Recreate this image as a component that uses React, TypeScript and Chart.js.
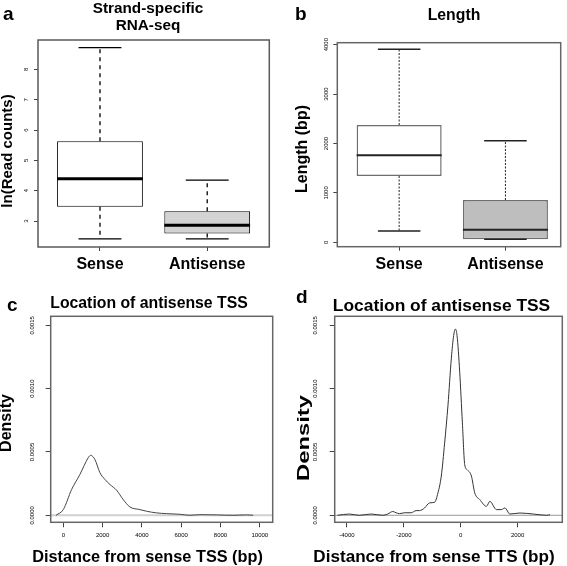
import React, { useEffect, useRef } from 'react';
import { Chart, registerables } from 'chart.js';

Chart.register(...registerables);

const FONT = '"Liberation Sans", Arial, Helvetica, sans-serif';

// ---------- Panel a / b : box plots ----------
const boxCategories = ['Sense', 'Antisense'];
const boxPositions = [1, 2];

const readMin = [2.41, 2.41];
const readQ1 = [3.47, 2.59];
const readMedian = [4.39, 2.86];
const readQ3 = [5.63, 3.32];
const readMax = [8.72, 4.35];
const readTicks = [3, 4, 5, 6, 7, 8];

const lenMin = [229, 61];
const lenQ1 = [1342, 61];
const lenMedian = [1761, 255];
const lenQ3 = [2374, 856];
const lenMax = [3907, 2057];
const lenTicks = [0, 1000, 2000, 3000, 4000];

// ---------- Panel c / d : densities ----------
const densityTicks = [0, 0.0005, 0.001, 0.0015];
const densityTickLabels = ['0.0000', '0.0005', '0.0010', '0.0015'];

const tssX = [-372, 0, 424, 847, 1271, 1390, 1610, 1864, 2119, 2373, 2712, 3051, 3390, 3898, 4237, 4746, 5254, 5932, 6440, 6949, 7796, 8644, 9322, 9661];
const tssY = [0, 0.000045, 0.000204, 0.000323, 0.000455, 0.000474, 0.00044, 0.000336, 0.000283, 0.000243, 0.000198, 0.000124, 0.000066, 0.000045, 0.000032, 0.000019, 0.000013, 0.000008, 0.0, 0.000005, 0.000003, 0.0, 0.000003, 0];
const tssTicks = [0, 2000, 4000, 6000, 8000, 10000];

const ttsX = [-4329, -3917, -3564, -3153, -2741, -2565, -2388, -2271, -2153, -1976, -1741, -1565, -1447, -1270, -1094, -918, -800, -682, -565, -447, -329, -247, -188, -129, -35, 59, 141, 224, 376, 494, 670, 906, 1023, 1258, 1435, 1553, 1729, 2082, 2553, 3023, 3140];
const ttsY = [0, 0.00001, 0, 0.00001, 0, 0.00001, 0.00003, 0.00002, 0.000013, 0.00002, 0.00002, 0.000037, 0.000037, 0.000058, 0.000098, 0.000103, 0.000177, 0.00031, 0.00057, 0.00087, 0.00124, 0.00142, 0.00147, 0.00142, 0.00113, 0.00073, 0.0004, 0.00036, 0.00031, 0.000177, 0.000124, 0.000071, 0.00011, 0.000045, 0.000045, 0.000058, 0.00001, 0.000018, 0.00001, 0, 0.000005];
const ttsTicks = [-4000, -2000, 0, 2000];

type Decor = {
  frameColor: string;
  frameWidth: number;
  yTickX: number;
  yTickLabels: string[];
  tickFont: number;
  letter: { text: string; x: number; y: number; size: number };
  title: { lines: string[]; x: number; y: number[]; size: number };
  yTitle: { text: string; x: number; y: number; size: number; stretch?: number };
  xTitle?: { text: string; x: number; y: number; size: number };
  zeroLine?: { color: string; width: number };
};

function makeDecor(d: Decor) {
  return {
    id: 'decor',
    beforeDatasetsDraw(chart: any) {
      if (!d.zeroLine) return;
      const { ctx, chartArea: ca } = chart;
      const y = chart.scales.y.getPixelForValue(0);
      ctx.save();
      ctx.strokeStyle = d.zeroLine.color;
      ctx.lineWidth = d.zeroLine.width;
      ctx.beginPath();
      ctx.moveTo(ca.left, y);
      ctx.lineTo(ca.right, y);
      ctx.stroke();
      ctx.restore();
    },
    afterDraw(chart: any) {
      const { ctx, chartArea: ca } = chart;
      ctx.save();
      ctx.strokeStyle = d.frameColor;
      ctx.lineWidth = d.frameWidth;
      ctx.strokeRect(ca.left, ca.top, ca.right - ca.left, ca.bottom - ca.top);

      const ys = chart.scales.y;
      ctx.fillStyle = '#000';
      ctx.font = `${d.tickFont}px ${FONT}`;
      ctx.textAlign = 'center';
      ctx.textBaseline = 'middle';
      ys.ticks.forEach((t: any, i: number) => {
        const py = ys.getPixelForValue(t.value);
        ctx.save();
        ctx.translate(d.yTickX, py);
        ctx.rotate(-Math.PI / 2);
        ctx.fillText(d.yTickLabels[i], 0, 0);
        ctx.restore();
      });

      ctx.textBaseline = 'alphabetic';
      ctx.textAlign = 'left';
      ctx.font = `bold ${d.letter.size}px ${FONT}`;
      ctx.fillText(d.letter.text, d.letter.x, d.letter.y);

      ctx.textAlign = 'center';
      ctx.font = `bold ${d.title.size}px ${FONT}`;
      d.title.lines.forEach((l, i) => ctx.fillText(l, d.title.x, d.title.y[i]));

      if (d.xTitle) {
        ctx.font = `bold ${d.xTitle.size}px ${FONT}`;
        ctx.fillText(d.xTitle.text, d.xTitle.x, d.xTitle.y);
      }

      ctx.font = `bold ${d.yTitle.size}px ${FONT}`;
      ctx.textBaseline = 'middle';
      ctx.save();
      ctx.translate(d.yTitle.x, d.yTitle.y);
      ctx.rotate(-Math.PI / 2);
      ctx.scale(d.yTitle.stretch ?? 1, 1);
      ctx.fillText(d.yTitle.text, 0, 0);
      ctx.restore();
      ctx.restore();
    },
  };
}

type BoxStyle = {
  min: number[]; q1: number[]; med: number[]; q3: number[]; max: number[];
  whiskerColor: string; whiskerWidth: number; dash: number[];
  capColor: string; capWidth: number; medColor: string; medWidth: number;
};

function makeBoxPlugin(s: BoxStyle) {
  return {
    id: 'boxWhiskers',
    afterDatasetsDraw(chart: any) {
      const ctx = chart.ctx;
      const ys = chart.scales.y;
      const meta = chart.getDatasetMeta(0);
      meta.data.forEach((bar: any, i: number) => {
        const x = bar.x;
        const w = bar.width;
        const pMin = ys.getPixelForValue(s.min[i]);
        const pQ1 = ys.getPixelForValue(s.q1[i]);
        const pMed = ys.getPixelForValue(s.med[i]);
        const pQ3 = ys.getPixelForValue(s.q3[i]);
        const pMax = ys.getPixelForValue(s.max[i]);
        ctx.save();
        ctx.strokeStyle = s.whiskerColor;
        ctx.lineWidth = s.whiskerWidth;
        ctx.setLineDash(s.dash);
        ctx.beginPath();
        ctx.moveTo(x, pQ3);
        ctx.lineTo(x, pMax);
        ctx.moveTo(x, pQ1);
        ctx.lineTo(x, pMin);
        ctx.stroke();
        ctx.setLineDash([]);
        ctx.strokeStyle = s.capColor;
        ctx.lineWidth = s.capWidth;
        ctx.beginPath();
        ctx.moveTo(x - w / 4, pMax);
        ctx.lineTo(x + w / 4, pMax);
        ctx.moveTo(x - w / 4, pMin);
        ctx.lineTo(x + w / 4, pMin);
        ctx.stroke();
        ctx.strokeStyle = s.medColor;
        ctx.lineWidth = s.medWidth;
        ctx.beginPath();
        ctx.moveTo(x - w / 2, pMed);
        ctx.lineTo(x + w / 2, pMed);
        ctx.stroke();
        ctx.restore();
      });
    },
  };
}

function tickGrid(len: number) {
  return { display: true, drawOnChartArea: false, drawTicks: true, tickLength: len, color: '#444', lineWidth: 1, offset: false };
}

function boxConfig(opts: {
  w: number; h: number; area: { l: number; r: number; t: number; b: number };
  xMin: number; xMax: number; yMin: number; yMax: number; yTicks: number[];
  q1: number[]; q3: number[]; fills: string[]; border: string; borderWidth: number;
  plugin: any; decor: any;
}): any {
  const { w, h, area } = opts;
  return {
    type: 'bar',
    data: {
      datasets: [
        {
          data: boxPositions.map((p, i) => ({ x: p, y: [opts.q1[i], opts.q3[i]] })),
          backgroundColor: opts.fills,
          borderColor: opts.border,
          borderWidth: opts.borderWidth,
          borderSkipped: false,
          barPercentage: 1,
          categoryPercentage: 0.8,
        },
      ],
    },
    options: {
      animation: false,
      responsive: false,
      maintainAspectRatio: false,
      events: [],
      layout: { padding: { left: 0, top: area.t, right: w - area.r, bottom: 0 } },
      scales: {
        x: {
          type: 'linear',
          offset: false,
          min: opts.xMin,
          max: opts.xMax,
          afterBuildTicks: (s: any) => { s.ticks = boxPositions.map((v) => ({ value: v })); },
          afterFit: (s: any) => { s.height = h - area.b; },
          grid: tickGrid(4),
          border: { display: false },
          ticks: {
            autoSkip: false, maxRotation: 0, padding: 4, color: '#000',
            font: { family: FONT, size: 16, weight: 'bold' },
            callback: (v: number) => boxCategories[boxPositions.indexOf(v)] ?? '',
          },
        },
        y: {
          type: 'linear',
          min: opts.yMin,
          max: opts.yMax,
          afterBuildTicks: (s: any) => { s.ticks = opts.yTicks.map((v) => ({ value: v })); },
          afterFit: (s: any) => { s.width = area.l; },
          grid: tickGrid(4),
          border: { display: false },
          ticks: { display: false },
        },
      },
      plugins: { legend: { display: false }, tooltip: { enabled: false }, title: { display: false } },
    },
    plugins: [opts.plugin, opts.decor],
  };
}

function densityConfig(opts: {
  w: number; h: number; area: { l: number; r: number; t: number; b: number };
  xMin: number; xMax: number; xs: number[]; ys: number[]; xTicks: number[];
  color: string; decor: any;
}): any {
  const { w, h, area } = opts;
  return {
    type: 'line',
    data: {
      datasets: [
        {
          data: opts.xs.map((x, i) => ({ x, y: opts.ys[i] })),
          borderColor: opts.color,
          borderWidth: 1,
          pointRadius: 0,
          fill: false,
          cubicInterpolationMode: 'monotone',
        },
      ],
    },
    options: {
      animation: false,
      responsive: false,
      maintainAspectRatio: false,
      events: [],
      layout: { padding: { left: 0, top: area.t, right: w - area.r, bottom: 0 } },
      scales: {
        x: {
          type: 'linear',
          offset: false,
          min: opts.xMin,
          max: opts.xMax,
          afterBuildTicks: (s: any) => { s.ticks = opts.xTicks.map((v) => ({ value: v })); },
          afterFit: (s: any) => { s.height = h - area.b; },
          grid: tickGrid(5),
          border: { display: false },
          ticks: {
            autoSkip: false, maxRotation: 0, padding: 4, color: '#000',
            font: { family: FONT, size: 6 },
            callback: (v: number) => String(v),
          },
        },
        y: {
          type: 'linear',
          min: -0.0000553,
          max: 0.001571,
          afterBuildTicks: (s: any) => { s.ticks = densityTicks.map((v) => ({ value: v })); },
          afterFit: (s: any) => { s.width = area.l; },
          grid: tickGrid(5),
          border: { display: false },
          ticks: { display: false },
        },
      },
      plugins: { legend: { display: false }, tooltip: { enabled: false }, title: { display: false } },
    },
    plugins: [opts.decor],
  };
}

function Panel(props: { left: number; top: number; width: number; height: number; build: () => any }) {
  const ref = useRef<HTMLCanvasElement>(null);
  useEffect(() => {
    const chart = new Chart(ref.current as HTMLCanvasElement, props.build());
    return () => chart.destroy();
  }, []);
  return (
    <canvas
      ref={ref}
      width={props.width}
      height={props.height}
      style={{ position: 'absolute', left: props.left, top: props.top, width: props.width, height: props.height }}
    />
  );
}

const buildA = () =>
  boxConfig({
    w: 283, h: 283, area: { l: 38, r: 269.3, t: 40, b: 247 },
    xMin: 0.422, xMax: 2.579, yMin: 2.143, yMax: 8.97, yTicks: readTicks,
    q1: readQ1, q3: readQ3, fills: ['#ffffff', '#d3d3d3'], border: '#000', borderWidth: 1,
    plugin: makeBoxPlugin({
      min: readMin, q1: readQ1, med: readMedian, q3: readQ3, max: readMax,
      whiskerColor: '#000', whiskerWidth: 1.3, dash: [4, 4],
      capColor: '#000', capWidth: 1.3, medColor: '#000', medWidth: 3,
    }),
    decor: makeDecor({
      frameColor: '#5a5a5a', frameWidth: 1.5, yTickX: 26.5,
      yTickLabels: readTicks.map(String), tickFont: 6,
      letter: { text: 'a', x: 3, y: 20, size: 19 },
      title: { lines: ['Strand-specific', 'RNA-seq'], x: 148, y: [12.5, 29.5], size: 15.3 },
      yTitle: { text: 'ln(Read counts)', x: 7.5, y: 151, size: 15 },
    }),
  });

const buildB = () =>
  boxConfig({
    w: 284, h: 283, area: { l: 54.3, r: 277.7, t: 42.7, b: 246.7 },
    xMin: 0.418, xMax: 2.52, yMin: -89, yMax: 4040, yTicks: lenTicks,
    q1: lenQ1, q3: lenQ3, fills: ['#ffffff', '#bebebe'], border: '#6e6e6e', borderWidth: 1.5,
    plugin: makeBoxPlugin({
      min: lenMin, q1: lenQ1, med: lenMedian, q3: lenQ3, max: lenMax,
      whiskerColor: '#222', whiskerWidth: 1, dash: [2, 1.5],
      capColor: '#222', capWidth: 1.5, medColor: '#222', medWidth: 2,
    }),
    decor: makeDecor({
      frameColor: '#666', frameWidth: 1.5, yTickX: 43,
      yTickLabels: lenTicks.map(String), tickFont: 6,
      letter: { text: 'b', x: 12, y: 20, size: 19 },
      title: { lines: ['Length'], x: 171, y: [20], size: 15.8 },
      yTitle: { text: 'Length (bp)', x: 20, y: 149, size: 16 },
    }),
  });

const buildC = () =>
  densityConfig({
    w: 283, h: 283, area: { l: 50.7, r: 272.7, t: 33.3, b: 239.3 },
    xMin: -641, xMax: 10656, xs: tssX, ys: tssY, xTicks: tssTicks, color: '#444',
    decor: makeDecor({
      frameColor: '#666', frameWidth: 1.5, yTickX: 32,
      yTickLabels: densityTickLabels, tickFont: 6,
      letter: { text: 'c', x: 7, y: 28, size: 19 },
      title: { lines: ['Location of antisense TSS'], x: 149, y: [25], size: 15.8 },
      yTitle: { text: 'Density', x: 7, y: 140, size: 16 },
      xTitle: { text: 'Distance from sense TSS (bp)', x: 147.5, y: 279, size: 16.3 },
      zeroLine: { color: '#d0d0d0', width: 2 },
    }),
  });

const buildD = () =>
  densityConfig({
    w: 284, h: 283, area: { l: 51.7, r: 279.3, t: 33.3, b: 239.3 },
    xMin: -4429, xMax: 3571, xs: ttsX, ys: ttsY, xTicks: ttsTicks, color: '#333',
    decor: makeDecor({
      frameColor: '#666', frameWidth: 1.5, yTickX: 32,
      yTickLabels: densityTickLabels, tickFont: 6,
      letter: { text: 'd', x: 13, y: 20, size: 19 },
      title: { lines: ['Location of antisense TSS'], x: 158.5, y: [28], size: 17.4 },
      yTitle: { text: 'Density', x: 21, y: 155, size: 17, stretch: 1.4 },
      xTitle: { text: 'Distance from sense TTS (bp)', x: 151, y: 279, size: 17.1 },
      zeroLine: { color: '#999', width: 1 },
    }),
  });

export default function App() {
  return (
    <div style={{ position: 'absolute', left: 0, top: 0, width: 567, height: 566, background: '#fff', overflow: 'hidden' }}>
      <Panel left={0} top={0} width={283} height={283} build={buildA} />
      <Panel left={283} top={0} width={284} height={283} build={buildB} />
      <Panel left={0} top={283} width={283} height={283} build={buildC} />
      <Panel left={283} top={283} width={284} height={283} build={buildD} />
    </div>
  );
}
